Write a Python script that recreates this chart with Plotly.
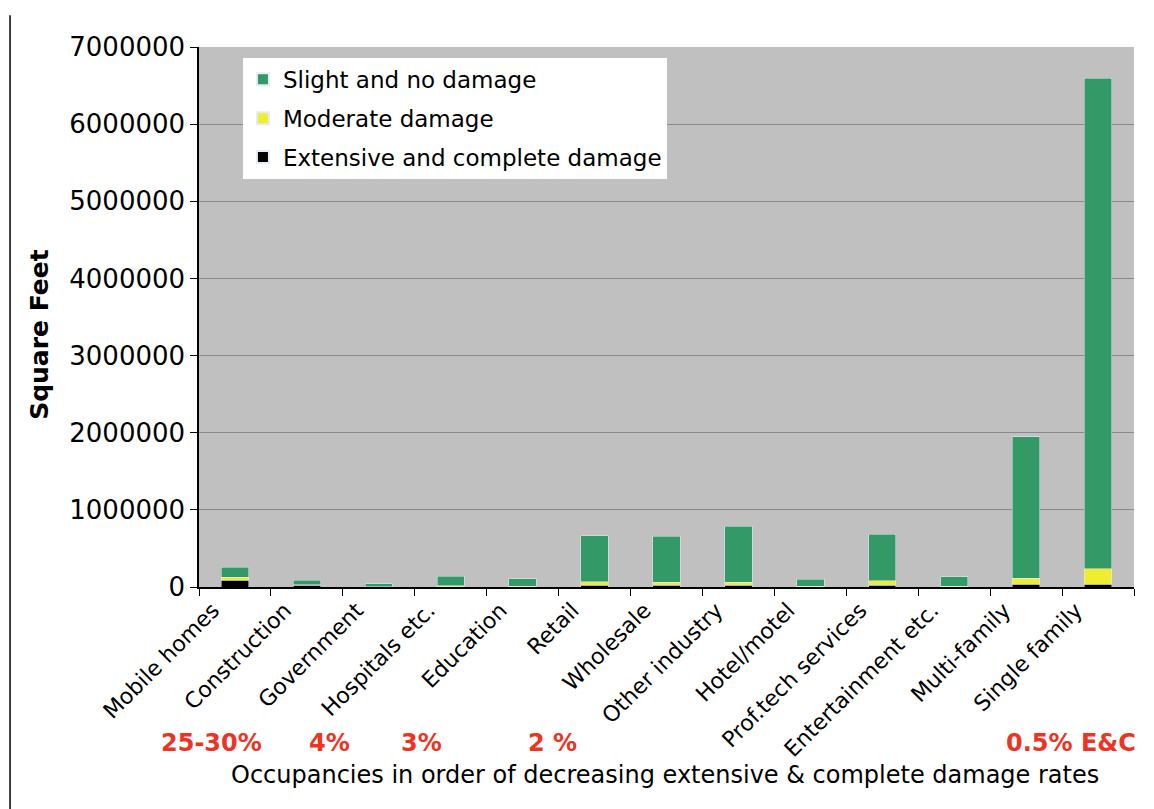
import plotly.graph_objects as go

categories = ["Mobile homes", "Construction", "Government", "Hospitals etc.", "Education",
              "Retail", "Wholesale", "Other industry", "Hotel/motel", "Prof.tech services",
              "Entertainment etc.", "Multi-family", "Single family"]
extensive = [90000, 20000, 3000, 5000, 2000, 25000, 21000, 20000, 2000, 20000, 2000, 34000, 34000]
moderate = [35000, 10000, 2000, 10000, 5000, 45000, 43000, 44000, 5000, 62000, 5000, 82000, 202000]
slight = [130000, 60000, 35000, 125000, 98000, 595000, 593000, 726000, 92000, 605000, 126000, 1834000, 6361000]
y_ticks = [0, 1000000, 2000000, 3000000, 4000000, 5000000, 6000000, 7000000]
rate_labels = ["25-30%", "4%", "3%", "2 %", "0.5% E&C"]
rate_pos = [-0.32, 1.32, 2.6, 4.42, 11.63]

FONT = "DejaVu Sans, Liberation Sans, Arial, sans-serif"

fig = go.Figure()
fig.add_bar(x=categories, y=extensive, name="Extensive and complete damage",
            marker_color="#000000", legendgroup="e", legendrank=3)
fig.add_bar(x=categories, y=moderate, name="Moderate damage",
            marker_color="#F0EC30", legendgroup="m", legendrank=2)
fig.add_bar(x=categories, y=slight, name="Slight and no damage",
            marker_color="#339966", legendgroup="s", legendrank=1)

annotations = []
for lab, pos in zip(rate_labels, rate_pos):
    annotations.append(dict(x=pos, y=-0.289, xref="x", yref="paper", text="<b>" + lab + "</b>",
                            showarrow=False, font=dict(family=FONT, size=24, color="#EE3322"),
                            xanchor="center", yanchor="middle"))
annotations.append(dict(x=0.498, y=-0.348, xref="paper", yref="paper",
                        text="Occupancies in order of decreasing extensive & complete damage rates",
                        showarrow=False, font=dict(family=FONT, size=24, color="black"),
                        xanchor="center", yanchor="middle"))
annotations.append(dict(x=-0.170, y=0.467, xref="paper", yref="paper",
                        text="<b>Square Feet</b>", textangle=-90,
                        showarrow=False, font=dict(family=FONT, size=25, color="black"),
                        xanchor="center", yanchor="middle"))

fig.update_layout(
    width=1154, height=809,
    margin=dict(l=191, r=28, t=39, b=230),
    paper_bgcolor="white", plot_bgcolor="#C0C0C0",
    barmode="stack", bargap=0.62,
    font=dict(family=FONT, size=20, color="black"),
    showlegend=True,
    legend=dict(x=0.047, y=0.98, xanchor="left", yanchor="top", bgcolor="white",
                borderwidth=0, traceorder="grouped", tracegroupgap=6,
                font=dict(family=FONT, size=23), itemsizing="constant"),
    annotations=annotations,
    shapes=[dict(type="line", xref="paper", yref="paper", x0=-0.2021, x1=-0.2021,
                 y0=1.059, y1=-0.43, line=dict(color="black", width=1.5))],
)
fig.update_xaxes(
    range=[-0.5, 12.5], autorange=False,
    tickangle=-45, tickson="boundaries", ticks="outside", ticklen=7, tickcolor="black",
    showline=True, linecolor="black", linewidth=1.5, showgrid=False, automargin=False,
    tickfont=dict(family=FONT, size=22), ticklabelshift=-22,
)
fig.update_yaxes(
    range=[0, 7000000], tickvals=y_ticks, tickformat="d", ticks="outside", ticklen=7,
    tickcolor="black", showline=True, linecolor="black", linewidth=1.5, automargin=False,
    showgrid=True, gridcolor="#8A8A8A", gridwidth=1, zeroline=False,
    tickfont=dict(family=FONT, size=26),
)
fig.write_html("out.html")
